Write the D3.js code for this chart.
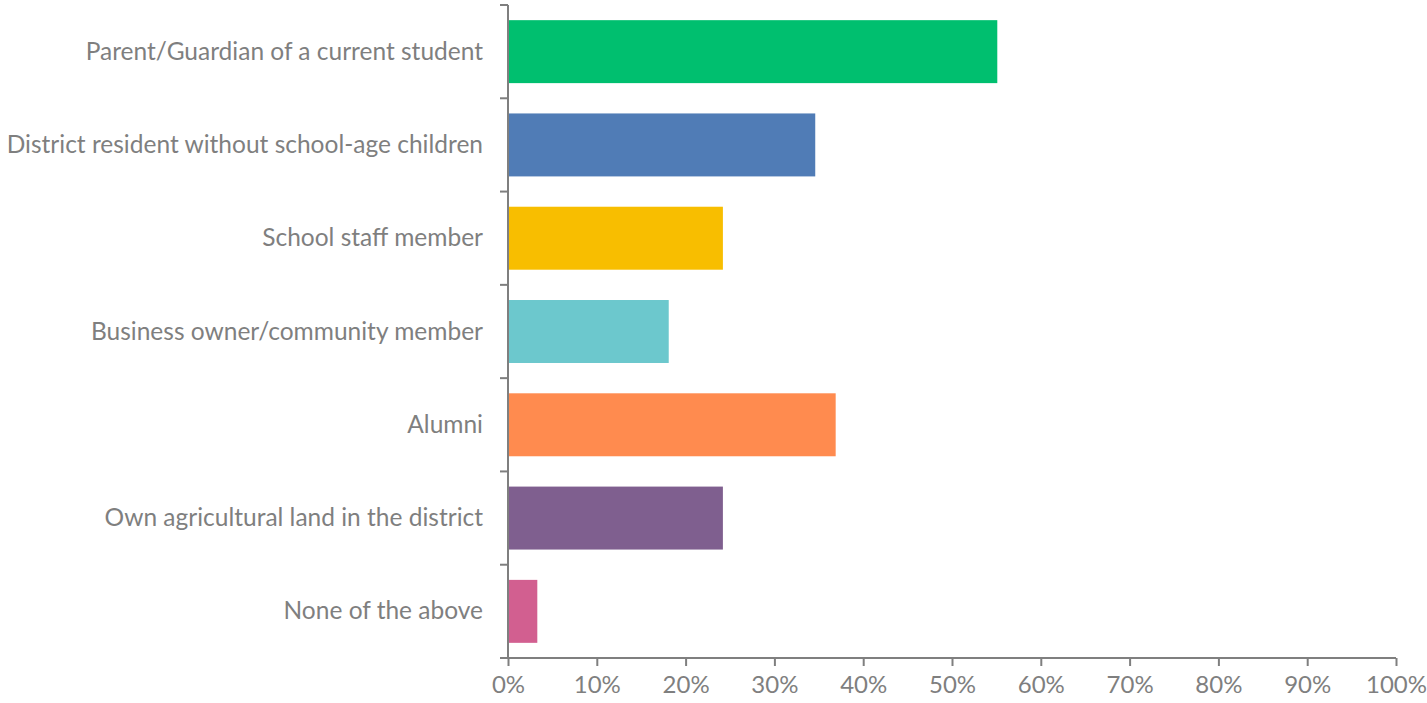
<!DOCTYPE html>
<html>
<head>
<meta charset="utf-8">
<script src="https://cdn.jsdelivr.net/npm/d3@7"></script>
<style>
  body { margin: 0; background: #fff; }
  .chart text { font-family: Lato, "Open Sans", sans-serif; fill: #7f7f7f; }
</style>
</head>
<body>
<div class="chart"></div>
<script>
let categories = [
    "Parent/Guardian of a current student",
    "District resident without school-age children",
    "School staff member",
    "Business owner/community member",
    "Alumni",
    "Own agricultural land in the district",
    "None of the above"
];
let values = [0.551, 0.346, 0.242, 0.181, 0.369, 0.242, 0.033];
let colors = ["#00bf6f", "#507cb6", "#f8be00", "#6cc8cd", "#ff8b4f", "#7f5f8f", "#d25f90"];
let xTicks = [0, 0.1, 0.2, 0.3, 0.4, 0.5, 0.6, 0.7, 0.8, 0.9, 1];

let width = 1427, height = 703;
let margin = {top: 5, right: 31, bottom: 45, left: 508};

createBarChart = () => {
    let svg = d3.select(".chart")
        .append("svg")
        .attr("width", width)
        .attr("height", height);

    let xScale = d3.scaleLinear()
        .domain([0, 1])
        .range([margin.left, width - margin.right]);

    let yScale = d3.scaleBand()
        .domain(categories)
        .range([margin.top, height - margin.bottom])
        .paddingInner(0.325)
        .paddingOuter(0.1625);

    // bars
    svg.selectAll("rect")
        .data(categories)
        .enter()
        .append("rect")
        .attr("x", xScale(0))
        .attr("y", d => yScale(d))
        .attr("width", (d, i) => xScale(values[i]) - xScale(0))
        .attr("height", yScale.bandwidth())
        .attr("fill", (d, i) => colors[i]);

    // x axis
    let x_axis = d3.axisBottom(xScale)
        .tickValues(xTicks)
        .tickFormat(d3.format(".0%"))
        .tickSize(8)
        .tickSizeOuter(0);

    let gx = svg.append("g")
        .attr("transform", "translate(0," + (height - margin.bottom) + ")")
        .call(x_axis);
    gx.selectAll("path, line").attr("stroke", "#7f7f7f").attr("stroke-width", 2);
    gx.selectAll("text").attr("font-size", 24).attr("dy", "1.0em");
    gx.select(".domain").attr("d", "M" + (xScale(0) - 8) + ",0H" + xScale(1));

    // y axis with ticks at band edges
    let step = yScale.step();
    let edges = d3.range(categories.length + 1).map(i => margin.top + i * step);
    let gy = svg.append("g");
    gy.append("line")
        .attr("x1", xScale(0)).attr("x2", xScale(0))
        .attr("y1", margin.top).attr("y2", height - margin.bottom)
        .attr("stroke", "#7f7f7f").attr("stroke-width", 2);
    gy.selectAll(".edge")
        .data(edges.slice(0, -1))
        .enter()
        .append("line")
        .attr("x1", xScale(0) - 8).attr("x2", xScale(0))
        .attr("y1", d => d).attr("y2", d => d)
        .attr("stroke", "#7f7f7f").attr("stroke-width", 2);

    gy.selectAll(".label")
        .data(categories)
        .enter()
        .append("text")
        .attr("class", "label")
        .attr("x", xScale(0) - 25)
        .attr("y", d => yScale(d) + yScale.bandwidth() / 2)
        .attr("dy", "0.33em")
        .attr("text-anchor", "end")
        .attr("font-size", 24.5)
        .text(d => d);
}

createBarChart()
</script>
</body>
</html>
